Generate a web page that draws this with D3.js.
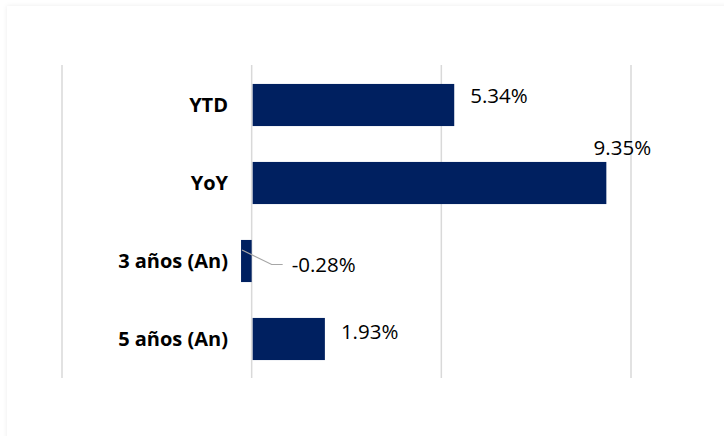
<!DOCTYPE html>
<html>
<head>
<meta charset="utf-8">
<script src="https://cdn.jsdelivr.net/npm/d3@7"></script>
<style>
  body { margin: 0; background: #fff; }
  svg { display: block; }
</style>
</head>
<body>
<svg id="chart" width="724" height="436"></svg>
<script>
// data
const categories = ["YTD", "YoY", "3 años (An)", "5 años (An)"];
const values = [5.34, 9.35, -0.28, 1.93];
const xTicks = [-5, 0, 5, 10];

// where each data label sits relative to the bar end (manual Excel-style placement)
const labelLayout = [
  { dx: 16, dy: -2, anchor: "start" },
  { dx: 16, dy: -28, anchor: "middle" },
  { dx: 40, dy: 11, anchor: "start", leader: true },
  { dx: 16, dy: 0, anchor: "start" }
];

const svg = d3.select("#chart");

// card behind the chart
const defs = svg.append("defs");
const f = defs.append("filter").attr("id", "shadow").attr("x", "-5%").attr("y", "-5%").attr("width", "110%").attr("height", "110%");
f.append("feDropShadow").attr("dx", 0).attr("dy", 0).attr("stdDeviation", 2).attr("flood-color", "#000").attr("flood-opacity", 0.08);
svg.append("rect")
  .attr("x", 7).attr("y", 6).attr("width", 760).attr("height", 480)
  .attr("fill", "#fff").attr("filter", "url(#shadow)");

var x = d3.scaleLinear().domain([-5, 10]).range([62, 631]);
var y = d3.scaleBand()
  .domain(categories)
  .range([66, 378])
  .paddingInner(0.46)
  .paddingOuter(0.23);

// gridlines
svg.append("g")
  .selectAll("line")
  .data(xTicks)
  .join("line")
  .attr("x1", (d) => x(d))
  .attr("x2", (d) => x(d))
  .attr("y1", 65)
  .attr("y2", 378)
  .attr("stroke", "#d9d9d9")
  .attr("stroke-width", 1.5);

// bars
svg.append("g")
  .selectAll("rect")
  .data(values)
  .join("rect")
  .attr("x", (d) => (d < 0 ? x(d) : x(0) + 1))
  .attr("y", (d, i) => y(categories[i]))
  .attr("width", (d) => Math.abs(x(d) - x(0)) - (d < 0 ? 0 : 1))
  .attr("height", y.bandwidth())
  .attr("fill", "#002060");

// category labels
svg.append("g")
  .selectAll("text")
  .data(categories)
  .join("text")
  .attr("x", 228)
  .attr("y", (d) => y(d) + y.bandwidth() / 2)
  .attr("dy", "0.36em")
  .attr("text-anchor", "end")
  .style("font-family", "'Open Sans', sans-serif")
  .style("font-weight", "bold")
  .style("font-size", "20px")
  .attr("fill", "#000")
  .text((d) => d);

// value labels (y is the baseline)
const lbl = svg.append("g");
values.forEach((v, i) => {
  const L = labelLayout[i];
  const cy = y(categories[i]) + y.bandwidth() / 2;
  const ex = x(v);
  const tx = (v < 0 ? x(0) : ex) + L.dx;
  const ty = cy + L.dy;
  if (L.leader) {
    lbl.append("polyline")
      .attr("points", [[ex + 1, cy - 11], [tx - 20, ty - 7.5], [tx - 9, ty - 7.5]].map((p) => p.join(",")).join(" "))
      .attr("fill", "none")
      .attr("stroke", "#a6a6a6")
      .attr("stroke-width", 1.2);
  }
  lbl.append("text")
    .attr("x", tx)
    .attr("y", ty)
    .attr("text-anchor", L.anchor)
    .style("font-family", "'Open Sans', sans-serif")
    .style("font-size", "20.5px")
    .attr("fill", "#000")
    .text(v.toFixed(2) + "%");
});
</script>
</body>
</html>
